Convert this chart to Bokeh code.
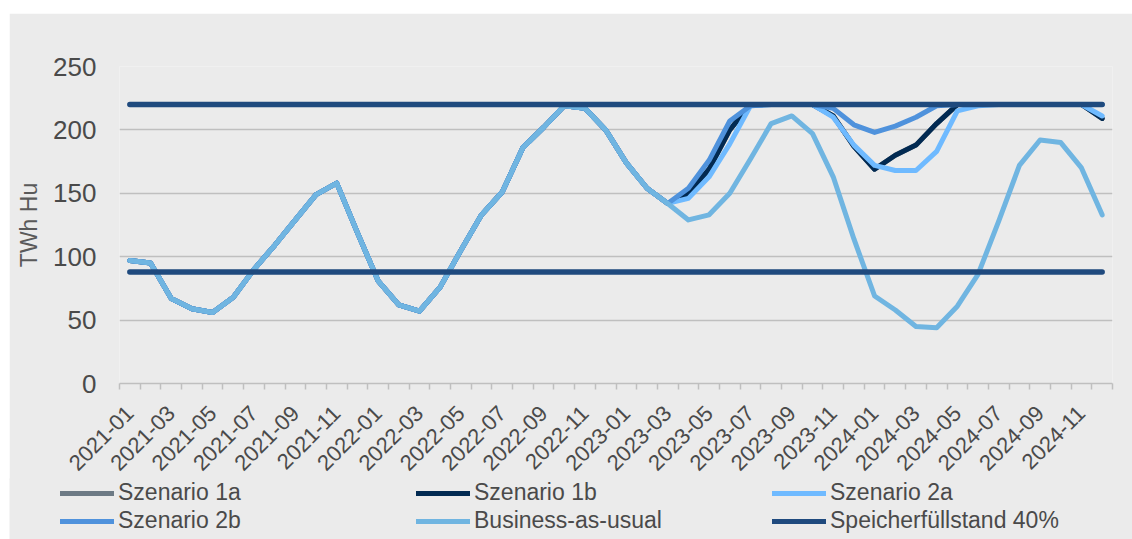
import math
from bokeh.plotting import figure
from bokeh.models import FixedTicker, Legend, LegendItem
from bokeh.embed import file_html
from bokeh.resources import INLINE

months = [f"{y}-{m:02d}" for y in (2021, 2022, 2023, 2024) for m in range(1, 13)]
x = list(range(len(months)))

bau = [97, 95, 67, 59, 56, 68, 90, 109, 129, 149, 158, 119,
       81, 62, 57, 76, 105, 133, 151, 186, 202, 219, 217, 200,
       174, 154, 142, 129, 133, 150, 177, 205, 211, 197, 163, 114,
       69, 58, 45, 44, 61, 86, 128, 172, 192, 190, 170, 133]
common = bau[:27]
s1b = common + [150, 169, 200, 220, 220, 220, 220, 211, 187, 169, 180, 188,
                205, 220, 220, 220, 220, 220, 220, 220, 209]
s1a = list(s1b)
s2a = common + [146, 163, 189, 219, 220, 220, 220, 210, 188, 172, 168, 168,
                183, 215, 219, 220, 220, 220, 220, 220, 211]
s2b = common + [154, 176, 207, 219, 220, 220, 220, 217, 204, 198, 203, 210,
                219, 220, 220, 220, 220, 220, 220, 220, 220]
speicher_max = [220] * len(months)
speicher_40 = [88] * len(months)

y_ticks = [0, 50, 100, 150, 200, 250]
series_names = ["Szenario 1a", "Szenario 1b", "Szenario 2a",
                "Szenario 2b", "Business-as-usual", "Speicherfüllstand 40%"]
series_colors = ["#6d7a85", "#022a52", "#6fbaff", "#4f92dc", "#70b5e1", "#1f4a7e"]

FONT = "Liberation Sans"
TXT = "#4a4a4a"
GRID = "#bfbfbf"
BG = "#ebebeb"

p = figure(width=1123, height=467, output_backend="svg", toolbar_location=None,
           x_range=(-0.5, 47.5), y_range=(0, 250),
           min_border_left=110, min_border_right=20, min_border_top=53, min_border_bottom=96)
p.margin = (13, 0, 0, 9)
p.background_fill_color = BG
p.border_fill_color = BG
p.outline_line_color = None

# x axis
p.xaxis.ticker = FixedTicker(ticks=list(range(0, len(months), 2)),
                             minor_ticks=[i - 0.5 for i in range(len(months) + 1)])
p.xaxis.major_label_overrides = {i: months[i] for i in range(0, len(months), 2)}
p.xaxis.major_label_orientation = math.pi / 4
p.xaxis.major_tick_line_color = None
p.xaxis.major_tick_out = 6
p.xaxis.major_tick_in = 0
p.xaxis.minor_tick_line_color = GRID
p.xaxis.minor_tick_line_width = 1.5
p.xaxis.minor_tick_out = 6
p.xaxis.minor_tick_in = 0
p.xaxis.axis_line_color = GRID
p.xaxis.axis_line_width = 1.5
p.xaxis.major_label_text_font = FONT
p.xaxis.major_label_text_font_size = "22px"
p.xaxis.major_label_text_color = TXT
p.xaxis.major_label_standoff = 20

# y axis
p.yaxis.ticker = FixedTicker(ticks=y_ticks)
p.yaxis.axis_line_color = None
p.yaxis.major_tick_line_color = None
p.yaxis.minor_tick_line_color = None
p.yaxis.major_tick_out = 0
p.yaxis.major_label_standoff = 23
p.yaxis.major_label_text_font = FONT
p.yaxis.major_label_text_font_size = "26px"
p.yaxis.major_label_text_color = TXT
p.yaxis.axis_label = "TWh Hu"
p.yaxis.axis_label_text_font = FONT
p.yaxis.axis_label_text_font_size = "23px"
p.yaxis.axis_label_text_font_style = "normal"
p.yaxis.axis_label_text_color = "#5a5a5a"
p.yaxis.axis_label_standoff = 8

p.xgrid.visible = False
p.ygrid.ticker = FixedTicker(ticks=y_ticks[1:])
p.ygrid.grid_line_color = GRID
p.ygrid.grid_line_width = 1.5

kw = dict(line_width=5, line_join="round", line_cap="round")
data = [s1a, s1b, s2a, s2b, bau]
for vals, col in zip(data, series_colors[:5]):
    p.line(x, vals, line_color=col, **kw)
p.line(x, speicher_max, line_color=series_colors[5], line_width=5.5, line_cap="round")
p.line(x, speicher_40, line_color=series_colors[5], line_width=5.5, line_cap="round")

# legend strip below the chart (separate root so its frame is not aligned to the chart)
q = figure(width=1123, height=61, output_backend="svg", toolbar_location=None,
           x_range=(0, 1), y_range=(0, 1), x_axis_type=None, y_axis_type=None,
           min_border=0, min_border_left=0, min_border_right=0,
           min_border_top=0, min_border_bottom=0)
q.margin = (-2, 0, 0, 9)
q.background_fill_color = BG
q.border_fill_color = BG
q.outline_line_color = None
q.grid.visible = False

nan = float("nan")
legend_renderers = []
for col in series_colors:
    legend_renderers.append(q.line([nan, nan], [nan, nan], line_color=col, line_width=5, line_cap="round"))

legend = Legend(items=[LegendItem(label=n, renderers=[r]) for n, r in zip(series_names, legend_renderers)],
                location=(51, 5), orientation="horizontal", ncols=3,
                border_line_color=None, background_fill_alpha=0,
                padding=0, margin=0, spacing=1,
                glyph_width=54, glyph_height=20, label_standoff=4,
                label_height=20, label_width=297,
                label_text_font=FONT, label_text_font_size="23px",
                label_text_color=TXT)
q.add_layout(legend, "center")

open("out.html", "w").write(file_html([p, q], INLINE))
